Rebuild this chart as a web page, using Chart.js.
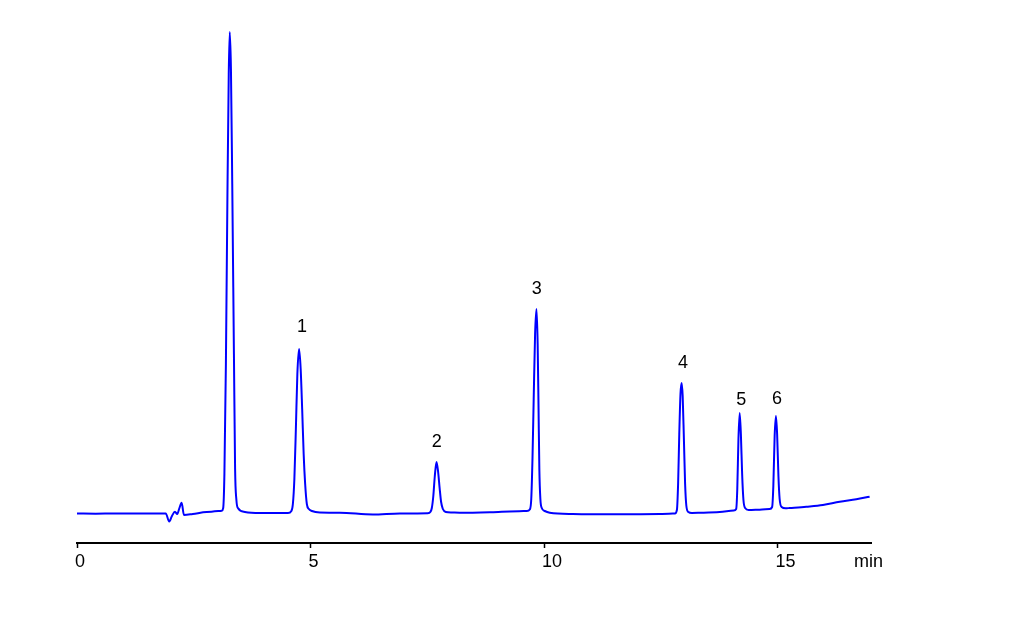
<!DOCTYPE html>
<html><head><meta charset="utf-8">
<script src="https://cdn.jsdelivr.net/npm/chart.js@4"></script>
<style>html,body{margin:0;padding:0;background:#fff}canvas{display:block}</style>
</head><body>
<canvas id="c" width="1020" height="634"></canvas>
<script>
// Retention time (min)
const times = [
  0.00, 0.40, 0.80, 1.20, 1.60, 1.90, 1.975, 2.033, 2.097, 2.146, 2.193, 2.240, 2.290, 2.480, 2.776, 3.100,
  3.130, 3.156, 3.188, 3.221, 3.249, 3.270, 3.296, 3.324, 3.360, 3.385, 3.413, 3.445, 3.595, 3.916, 4.300, 4.516,
  4.590, 4.622, 4.654, 4.686, 4.718, 4.755, 4.789, 4.821, 4.853, 4.885, 4.921, 4.965, 5.029, 5.200,
  5.628, 6.334, 6.912, 7.511,
  7.565, 7.597, 7.629, 7.661, 7.697, 7.732, 7.764, 7.796, 7.833, 7.897, 8.025,
  8.196, 8.838, 9.266, 9.630,
  9.694, 9.726, 9.752, 9.778, 9.808, 9.838, 9.863, 9.882, 9.899, 9.921, 9.951, 10.015,
  10.122, 10.614, 11.620, 12.476, 12.801,
  12.844, 12.870, 12.895, 12.921, 12.945, 12.968, 12.994, 13.020, 13.047, 13.090, 13.165,
  13.332, 13.760, 14.060,
  14.113, 14.137, 14.162, 14.188, 14.214, 14.241, 14.269, 14.305, 14.380,
  14.615, 14.829,
  14.883, 14.909, 14.937, 14.965, 14.990, 15.018, 15.044, 15.087, 15.172,
  15.258, 15.615, 15.970, 16.330, 16.685, 16.970
];
// Detector signal (mAU, relative)
const signal = [
  0.5, 0.3, 0.6, 0.4, 0.5, 0.5, -7.5, -2, 2.3, 0, 6, 11.3, -1, 0, 2, 3.3,
  6, 40, 150, 320, 440, 482, 445, 330, 160, 45, 14, 6, 2, 1, 1, 1,
  3, 10, 35, 85, 140, 165, 145, 105, 60, 30, 10, 5, 3, 1.5,
  1.3, -0.5, 0.5, 0.7,
  2, 6, 18, 38, 52, 42, 26, 12, 5, 2, 1.5,
  1.3, 1.8, 2.5, 3,
  4.5, 15, 55, 115, 180, 205, 170, 105, 45, 15, 6, 3,
  1.3, 0, -0.3, 0, 0.5,
  4, 30, 80, 120, 131, 118, 75, 30, 8, 2, 1,
  1.2, 2, 3.5,
  5, 25, 75, 101, 80, 40, 14, 6, 4,
  4.3, 5,
  7, 28, 78, 98, 80, 38, 15, 7, 5.7,
  6, 7.3, 9, 12.3, 14.7, 17.3
];
const tickValues = [0, 5, 10, 15];
const axisUnit = 'min';
const peakLabels = ['1', '2', '3', '4', '5', '6'];
const labelTimes = [4.815, 7.704, 9.843, 12.975, 14.220, 14.987];
const labelLevels = [187, 72, 225, 151, 114, 115];

const FONT = '"Liberation Sans", Arial, sans-serif';
const points = times.map((t, i) => ({x: t, y: signal[i]}));

const annot = {
  id: 'annot',
  afterDraw(chart) {
    const {ctx, chartArea} = chart;
    const xs = chart.scales.x, ys = chart.scales.y;
    ctx.save();
    ctx.font = '18px ' + FONT;
    ctx.fillStyle = '#000';
    ctx.textAlign = 'center';
    ctx.textBaseline = 'middle';
    peakLabels.forEach((l, i) => {
      ctx.fillText(l, xs.getPixelForValue(labelTimes[i]), ys.getPixelForValue(labelLevels[i]));
    });
    ctx.textAlign = 'left';
    ctx.fillText(axisUnit, chartArea.right - 17, xs.top + 18.8);
    ctx.restore();
  }
};

new Chart(document.getElementById('c'), {
  type: 'line',
  data: {
    datasets: [{
      data: points,
      borderColor: '#0000ff',
      borderWidth: 2,
      pointRadius: 0,
      fill: false,
      cubicInterpolationMode: 'monotone'
    }]
  },
  options: {
    responsive: false,
    animation: false,
    devicePixelRatio: 1,
    layout: {padding: {left: 77, right: 149, top: 20, bottom: 58.4}},
    plugins: {legend: {display: false}, tooltip: {enabled: false}},
    scales: {
      x: {
        type: 'linear',
        min: 0,
        max: 17,
        afterBuildTicks(scale) { scale.ticks = tickValues.map(v => ({value: v})); },
        grid: {drawOnChartArea: false, drawTicks: true, tickLength: 5, tickColor: '#000', tickWidth: 1.5},
        border: {display: true, color: '#000', width: 2},
        ticks: {
          align: 'start',
          labelOffset: -2,
          padding: 3,
          color: '#000',
          font: {size: 18, family: FONT},
          maxRotation: 0,
          callback: v => String(v)
        }
      },
      y: {
        type: 'linear',
        display: false,
        min: -29,
        max: 494
      }
    }
  },
  plugins: [annot]
});
</script>
</body></html>
